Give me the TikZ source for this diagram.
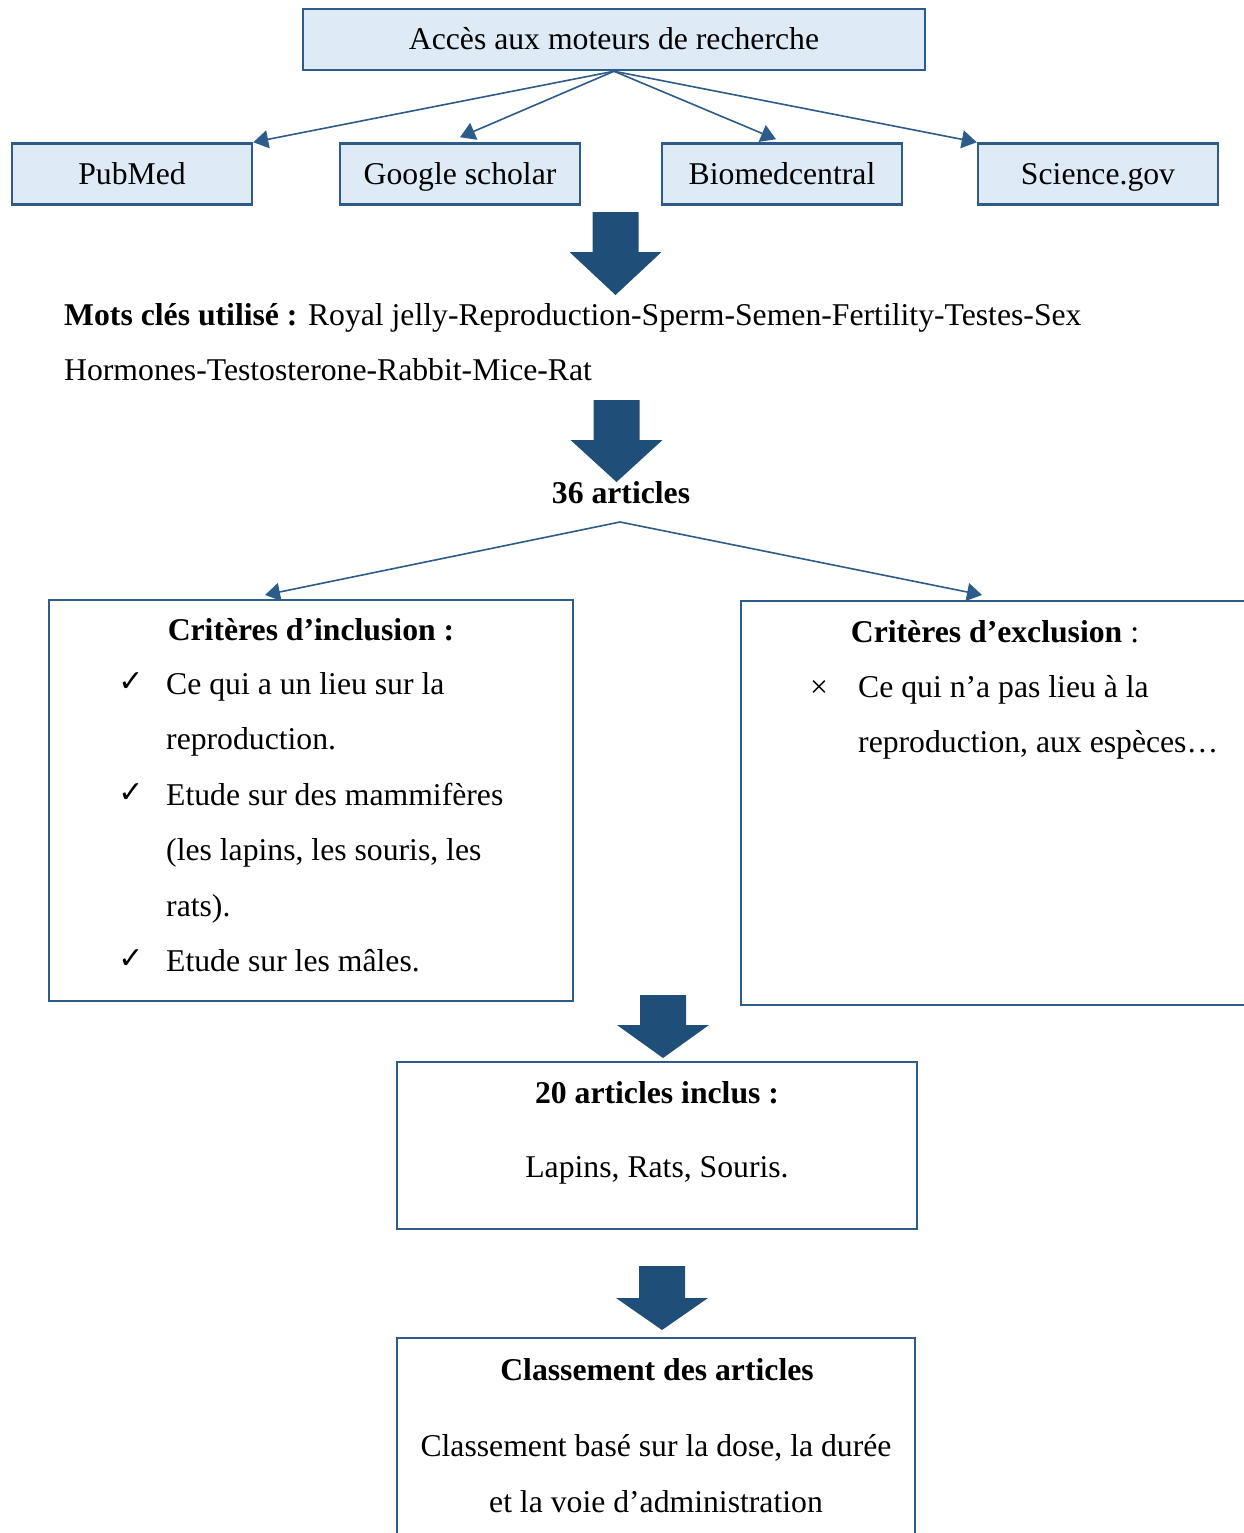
\documentclass[tikz,border=0pt]{standalone}
\usepackage{fontspec}
\setmainfont{Liberation Serif}
\newfontfamily\symfont{DejaVu Sans}
\usetikzlibrary{arrows.meta, positioning}
\definecolor{boxfill}{HTML}{DEEAF6}
\definecolor{boxline}{HTML}{2E5C8A}
\definecolor{arrowblue}{HTML}{1F4E79}
\tikzset{
    x=1pt, y=-1pt, % one unit is one pixel of the layout
    every node/.style={font=\fontsize{31.7}{38}\selectfont},
    source/.style={draw=boxline, line width=2.5pt, fill=boxfill, minimum height=61pt, minimum width=240pt, text height=21pt, text depth=0pt}, % blue search boxes
    panel/.style={draw=boxline, line width=2.5pt, fill=white}, % white frames
    txt/.style={inner sep=0pt, anchor=base west}, % lines of text
    ctxt/.style={inner sep=0pt, anchor=base}, % centred lines
    tick/.style={inner sep=0pt, font=\symfont\bfseries\fontsize{30}{34}\selectfont},
    link/.style={draw=boxline, line width=1.6pt, -{Triangle[length=15pt,width=18pt]}}, % thin arrows
    pics/bigarrow/.style 2 args={code={
        \fill[arrowblue] (-23,0) -- (23,0) -- (23,#1) -- (46,#1) -- (0,#1+#2) -- (-46,#1) -- (-23,#1) -- cycle;
    }},
}
\begin{document}
\begin{tikzpicture}
    \useasboundingbox (0,0) rectangle (1244,1533);
    \clip (0,0) rectangle (1244,1533);

    % search engines
    \node[source, minimum width=622pt] (top) at (614,39.5) {Accès aux moteurs de recherche};
    \node[source] (pubmed) at (132,174) {PubMed};
    \node[source] (google) at (460,174) {Google scholar};
    \node[source] (biomed) at (782,174) {Biomedcentral};
    \node[source] (science) at (1098,174) {Science.gov};
    \draw[link] (top.south) -- (pubmed.north east);
    \draw[link] (top.south) -- ([yshift=5pt]google.north);
    \draw[link] (top.south) -- ([xshift=-6pt,yshift=3pt]biomed.north);
    \draw[link] (top.south) -- (science.north west);

    \pic at (615.5,212) {bigarrow={40}{43}};

    % keywords
    \node[txt] (kw1) at (64,325) {\textbf{Mots clés utilisé :} Royal jelly-Reproduction-Sperm-Semen-Fertility-Testes-Sex};
    \node[txt] (kw2) at (64,380) {Hormones-Testosterone-Rabbit-Mice-Rat};

    \pic at (616.5,400) {bigarrow={40}{42}};
    \node[ctxt] (total) at (621,503) {\textbf{36 articles}};

    % inclusion / exclusion
    \node[panel, minimum width=524pt, minimum height=401pt] (incl) at (311,800.5) {};
    \node[panel, minimum width=519pt, minimum height=404pt] (excl) at (1000.5,803) {};
    \coordinate (split) at (620,522);
    \coordinate (incltip) at (265,595);
    \coordinate (excltip) at (982,595);
    \draw[link] (split) -- (incltip);
    \draw[link] (split) -- (excltip);

    \node[ctxt] (incltitle) at (311,640.5) {\textbf{Critères d’inclusion :}};
    \foreach \y/\mk/\line [count=\i] in {694/1/Ce qui a un lieu sur la, 749.5/0/reproduction., 805/1/Etude sur des mammifères, 860.5/0/{(les lapins, les souris, les}, 916/0/rats)., 971/1/Etude sur les mâles.} {
        \node[txt] (inc\i) at (166,\y) {\line};
        \ifnum\mk=1 \node[tick] (chk\i) at (131,\y-12) {✓}; \fi
    }

    \node[ctxt] (excltitle) at (995,642.5) {\textbf{Critères d’exclusion} :};
    \node[inner sep=0pt] (cross) at (819,689) {×};
    \node[txt] (exc1) at (858,697) {Ce qui n’a pas lieu à la};
    \node[txt] (exc2) at (858,752) {reproduction, aux espèces…};

    \pic at (663,995) {bigarrow={30}{33}};

    % included articles
    \node[panel, minimum width=520pt, minimum height=167pt] (inclus) at (657,1145.5) {};
    \node[ctxt] (inclustitle) at (657,1103.5) {\textbf{20 articles inclus :}};
    \node[ctxt] (especes) at (657,1177) {Lapins, Rats, Souris.};

    \pic at (662,1266) {bigarrow={32}{32}};

    % classification
    \node[panel, minimum width=518pt, minimum height=207pt] (classe) at (656,1441.5) {};
    \node[ctxt] (classetitle) at (657,1380) {\textbf{Classement des articles}};
    \node[ctxt] (classe1) at (656,1456) {Classement basé sur la dose, la durée};
    \node[ctxt] (classe2) at (656,1512) {et la voie d’administration};
\end{tikzpicture}
\end{document}
